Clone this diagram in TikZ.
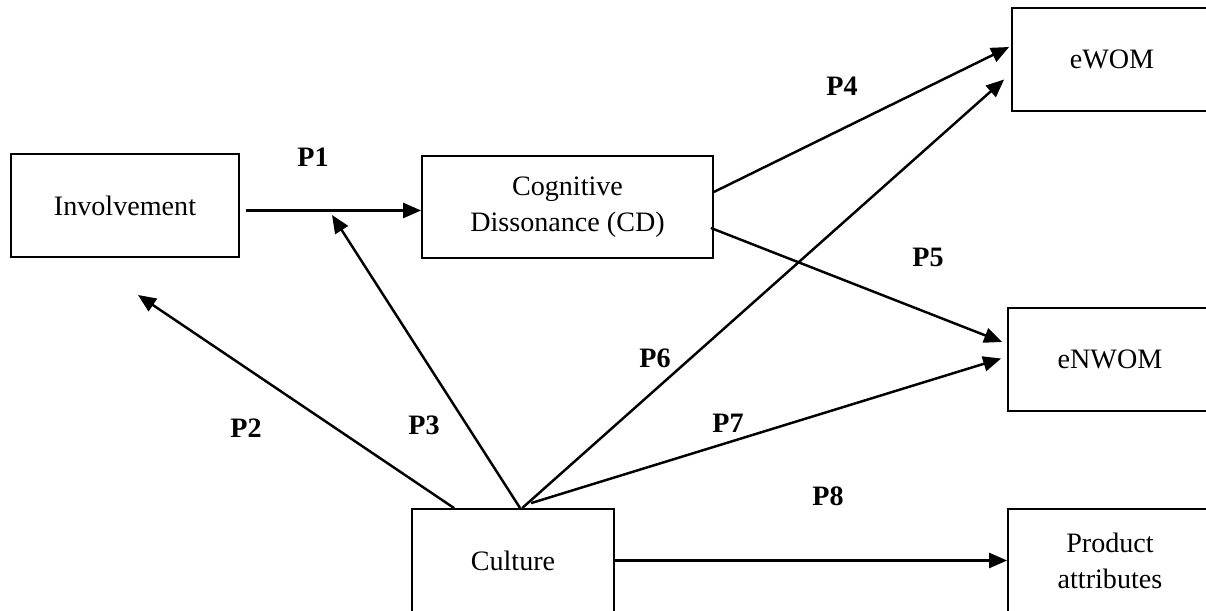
\documentclass[tikz,border=0pt]{standalone}
\usepackage{fontspec}
\setmainfont{Liberation Serif}
\usetikzlibrary{positioning}
\usetikzlibrary{arrows.meta}

\begin{document}
\begin{tikzpicture}[
		box/.style={draw,line width=1pt,rectangle,align=center,inner sep=0pt,font=\fontsize{16}{20.5}\selectfont},
		arr/.style={-{Triangle[length=0.36cm,width=0.30cm]},line width=1.4pt},
		plab/.style={font=\fontsize{16}{19}\selectfont\bfseries}]
		\useasboundingbox (0,0) rectangle (24.12,12.22);
		% boxes
		\node (inv) [box,minimum width=4.56cm,minimum height=2.06cm] at (2.50,8.11) {Involvement};
		\node (cd) [box,minimum width=5.82cm,minimum height=2.04cm] at (11.35,8.08) {Cognitive\\Dissonance (CD)};
		\node (ewom) [box,minimum width=4.00cm,minimum height=2.06cm] at (22.24,11.03) {eWOM};
		\node (enwom) [box,minimum width=4.08cm,minimum height=2.06cm] at (22.20,5.03) {eNWOM};
		\node (cul) [box,minimum width=4.04cm,minimum height=2.06cm] at (10.26,1.01) {Culture};
		\node (prod) [box,minimum width=4.08cm,minimum height=2.06cm] at (22.20,1.01) {Product\\attributes};
		% free ends
		\coordinate (p2end) at (2.76,6.32);
		\coordinate (p3end) at (6.64,7.92);
		% paths
		\draw[arr] ([xshift=0.12cm,yshift=-0.10cm]inv.east) -- ([yshift=-0.07cm]cd.west);
		\draw[arr] ([xshift=0.86cm]cul.north west) -- (p2end);
		\draw[arr] ([xshift=2.18cm]cul.north west) -- (p3end);
		\draw[arr] ([yshift=0.30cm]cd.east) -- ([xshift=-0.04cm,yshift=0.25cm]ewom.west);
		\draw[arr] ([xshift=-0.06cm,yshift=-0.42cm]cd.east) -- ([xshift=-0.10cm,yshift=0.35cm]enwom.west);
		\draw[arr] ([xshift=2.22cm]cul.north west) -- ([xshift=-0.14cm,yshift=-0.40cm]ewom.west);
		\draw[arr] ([xshift=2.40cm,yshift=0.10cm]cul.north west) -- ([xshift=-0.12cm,yshift=0.02cm]enwom.west);
		\draw[arr] (cul.east) -- (prod.west);
		% labels
		\node (lp1) [plab] at (6.26,9.08) {P1};
		\node (lp2) [plab] at (4.92,3.66) {P2};
		\node (lp3) [plab] at (8.48,3.72) {P3};
		\node (lp4) [plab] at (16.84,10.50) {P4};
		\node (lp5) [plab] at (18.56,7.08) {P5};
		\node (lp6) [plab] at (13.10,5.06) {P6};
		\node (lp7) [plab] at (14.56,3.76) {P7};
		\node (lp8) [plab] at (16.56,2.30) {P8};
	\end{tikzpicture}
\end{document}
